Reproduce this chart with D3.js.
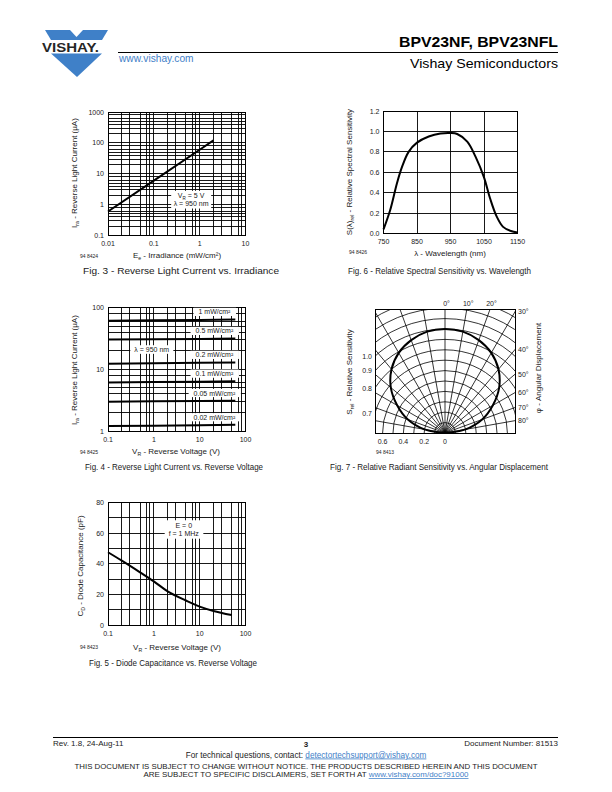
<!DOCTYPE html>
<html><head><meta charset="utf-8">
<script src="https://cdn.jsdelivr.net/npm/d3@7"></script>
<style>body{margin:0;background:#fff} svg{display:block} text{font-family:"Liberation Sans",Arial,Helvetica,sans-serif}</style>
</head><body><svg id="page" width="612" height="792"></svg>
<script>
// ---------- DATA ----------
const fig3Irradiance = [0.01, 0.1, 1, 2];
const fig3Current = [0.6, 6, 60, 120];
const fig3XTicks = [0.01, 0.1, 1, 10];
const fig3YTicks = [0.1, 1, 10, 100, 1000];

const fig4Voltage = [0.1, 1, 10, 60];
const fig4Labels = ["1 mW/cm²", "0.5 mW/cm²", "0.2 mW/cm²", "0.1 mW/cm²", "0.05 mW/cm²", "0.02 mW/cm²"];
const fig4Current = [
  [61, 62, 63, 64],
  [30.2, 30.6, 31, 31.6],
  [12.3, 12.5, 12.7, 12.9],
  [6.1, 6.2, 6.3, 6.4],
  [2.98, 3.02, 3.06, 3.1],
  [1.2, 1.22, 1.24, 1.26]
];
const fig4XTicks = [0.1, 1, 10, 100];
const fig4YTicks = [1, 10, 100];

const fig5Voltage = [0.1, 0.2, 0.5, 1, 2, 5, 10, 20, 50];
const fig5Capacitance = [47.5, 42, 34.4, 28.5, 22, 16, 12, 9.2, 6.5];
const fig5XTicks = [0.1, 1, 10, 100];
const fig5YTicks = [0, 20, 40, 60, 80];

const fig6Wavelength = [750, 770, 790, 805, 825, 850, 885, 920, 950, 970, 1000, 1025, 1050, 1068, 1088, 1107, 1130, 1150];
const fig6Sensitivity = [0.04, 0.23, 0.49, 0.65, 0.80, 0.89, 0.95, 0.98, 0.985, 0.975, 0.90, 0.75, 0.55, 0.345, 0.165, 0.065, 0.025, 0.01];
const fig6XTicks = [750, 850, 950, 1050, 1150];
const fig6YTicks = [0, 0.2, 0.4, 0.6, 0.8, 1.0, 1.2];

const fig7Angle = [0, 10, 20, 30, 40, 50, 60, 70, 80, 90];
const fig7Sensitivity = [1.0, 0.99, 0.95, 0.89, 0.80, 0.68, 0.53, 0.38, 0.20, 0.0];
const fig7SideTicks = [1.0, 0.9, 0.8, 0.7];
const fig7BottomTicks = [0.6, 0.4, 0.2, 0];
const fig7AngleTicks = [0, 10, 20, 30, 40, 50, 60, 70, 80];

const logMinorX = [2, 3, 5, 7, 8];
const logMinorY = [2, 3, 4, 5, 6, 8];

// ---------- HELPERS ----------
const svg = d3.select("#page");
svg.append("rect").attr("width", 612).attr("height", 792).attr("fill", "#fff");
const BLUE = "#3f80c8";

function txt(g, x, y, s, size, anchor, extra) {
  const t = g.append("text").attr("x", x).attr("y", y).attr("font-size", size)
    .attr("text-anchor", anchor || "start").attr("fill", "#1a1a1a").text(s);
  if (extra) Object.entries(extra).forEach(([k, v]) => t.attr(k, v));
  return t;
}
function rich(g, x, y, parts, size, anchor, rotate) {
  const t = g.append("text").attr("x", x).attr("y", y).attr("font-size", size)
    .attr("text-anchor", anchor || "middle").attr("fill", "#1a1a1a");
  if (rotate) t.attr("transform", `rotate(${rotate},${x},${y})`);
  let shifted = false;
  parts.forEach(p => {
    const s = t.append("tspan").text(p.t);
    if (p.sub) { s.attr("font-size", size * 0.65).attr("dy", 1.6); shifted = true; }
    else if (shifted) { s.attr("dy", -1.6); shifted = false; }
  });
  return t;
}
function logValues(domain, minors) {
  const out = [];
  const e0 = Math.round(Math.log10(domain[0])), e1 = Math.round(Math.log10(domain[1]));
  for (let e = e0; e < e1; e++) minors.forEach(m => out.push(m * Math.pow(10, e)));
  return out;
}
function gridV(g, x, y, vals, w) {
  g.selectAll(null).data(vals).enter().append("line")
    .attr("x1", d => x(d)).attr("x2", d => x(d)).attr("y1", y.range()[1]).attr("y2", y.range()[0])
    .attr("stroke", "#000").attr("stroke-width", w || 0.9).attr("shape-rendering", "crispEdges");
}
function gridH(g, x, y, vals, w) {
  g.selectAll(null).data(vals).enter().append("line")
    .attr("y1", d => y(d)).attr("y2", d => y(d)).attr("x1", x.range()[0]).attr("x2", x.range()[1])
    .attr("stroke", "#000").attr("stroke-width", w || 0.9).attr("shape-rendering", "crispEdges");
}
function frame(g, x, y) {
  g.append("rect").attr("x", x.range()[0]).attr("y", y.range()[1])
    .attr("width", x.range()[1] - x.range()[0]).attr("height", y.range()[0] - y.range()[1])
    .attr("fill", "none").attr("stroke", "#000").attr("stroke-width", 1).attr("shape-rendering", "crispEdges");
}
function whiteBox(g, textSel, padX, padY) {
  const boxes = textSel.map(t => t.node().getBBox());
  const x0 = d3.min(boxes, b => b.x) - padX, x1 = d3.max(boxes, b => b.x + b.width) + padX;
  const y0 = d3.min(boxes, b => b.y) - padY, y1 = d3.max(boxes, b => b.y + b.height) + padY;
  g.insert("rect", () => textSel[0].node()).attr("x", x0).attr("y", y0).attr("width", x1 - x0).attr("height", y1 - y0).attr("fill", "#fff");
}
function xTickLabels(g, x, y, ticks, fmt) {
  ticks.forEach(v => txt(g, x(v), y.range()[0] + 10.5, fmt ? fmt(v) : String(v), 7, "middle"));
}
function yTickLabels(g, x, y, ticks, fmt) {
  ticks.forEach(v => txt(g, x.range()[0] - 4, y(v) + 2.5, fmt ? fmt(v) : String(v), 7, "end"));
}

// ---------- HEADER ----------
const hdr = svg.append("g");
hdr.append("path").attr("d", "M45,30 L108,30 L102,40 L51,40 Z").attr("fill", BLUE);
hdr.append("path").attr("d", "M70,30 L83,30 L76.5,37 Z").attr("fill", "#fff");
hdr.append("path").attr("d", "M51,53.5 L102,53.5 L77,77 Z").attr("fill", BLUE);
txt(hdr, 42, 51.5, "VISHAY.", 12.5, "start", { "font-weight": "bold", "textLength": 57, "lengthAdjust": "spacingAndGlyphs", "fill": "#262626" });
txt(hdr, 119, 61.5, "www.vishay.com", 10.2, "start", { fill: BLUE });
txt(hdr, 558, 47, "BPV23NF, BPV23NFL", 15.5, "end", { "font-weight": "bold", fill: "#000", textLength: 159, lengthAdjust: "spacingAndGlyphs" });
hdr.append("line").attr("x1", 118).attr("x2", 558).attr("y1", 52.5).attr("y2", 52.5).attr("stroke", "#000").attr("stroke-width", 1);
txt(hdr, 558, 67.5, "Vishay Semiconductors", 13.5, "end", { fill: "#000", textLength: 148, lengthAdjust: "spacingAndGlyphs" });

// ---------- FIG 3 ----------
{
  const g = svg.append("g");
  const x = d3.scaleLog().domain([0.01, 10]).range([108, 245.5]);
  const y = d3.scaleLog().domain([0.1, 1000]).range([235.5, 112]);
  gridV(g, x, y, logValues(x.domain(), logMinorX));
  gridV(g, x, y, fig3XTicks);
  gridH(g, x, y, logValues(y.domain(), logMinorY));
  gridH(g, x, y, fig3YTicks);
  frame(g, x, y);
  g.append("path").datum(fig3Irradiance.map((v, i) => [v, fig3Current[i]]))
    .attr("d", d3.line().x(d => x(d[0])).y(d => y(d[1])))
    .attr("fill", "none").attr("stroke", "#000").attr("stroke-width", 2);
  const a1 = rich(g, x(0.65), y(1.6), [{ t: "V" }, { t: "R", sub: true }, { t: " = 5 V" }], 7, "middle");
  const a2 = txt(g, x(0.65), y(0.9), "λ = 950 nm", 7, "middle");
  whiteBox(g, [a1, a2], 2.5, 1.5);
  xTickLabels(g, x, y, fig3XTicks);
  yTickLabels(g, x, y, fig3YTicks);
  rich(g, 77, 173, [{ t: "I" }, { t: "ra", sub: true }, { t: " - Reverse Light Current (µA)" }], 8, "middle", -90);
  rich(g, 177, 258, [{ t: "E" }, { t: "e", sub: true }, { t: " - Irradiance (mW/cm²)" }], 8, "middle");
  txt(g, 80, 258, "94 8424", 5);
  txt(g, 83, 274, "Fig. 3 - Reverse Light Current vs. Irradiance", 8.6, "start", { textLength: 196, lengthAdjust: "spacingAndGlyphs" });
}

// ---------- FIG 6 ----------
{
  const g = svg.append("g");
  const x = d3.scaleLinear().domain([750, 1150]).range([383.5, 517.5]);
  const y = d3.scaleLinear().domain([0, 1.2]).range([233.5, 111]);
  gridV(g, x, y, fig6XTicks);
  gridH(g, x, y, fig6YTicks);
  frame(g, x, y);
  g.append("path").datum(fig6Wavelength.map((v, i) => [v, fig6Sensitivity[i]]))
    .attr("d", d3.line().curve(d3.curveCatmullRom).x(d => x(d[0])).y(d => y(d[1])))
    .attr("fill", "none").attr("stroke", "#000").attr("stroke-width", 2);
  xTickLabels(g, x, y, fig6XTicks);
  yTickLabels(g, x, y, fig6YTicks, d3.format(".1f"));
  rich(g, 352, 172, [{ t: "S(λ)" }, { t: "rel", sub: true }, { t: " - Relative Spectral Sensitivity" }], 8, "middle", -90);
  txt(g, 450, 256, "λ - Wavelength (nm)", 8, "middle");
  txt(g, 349, 254, "94 8426", 5);
  txt(g, 348, 274, "Fig. 6 - Relative Spectral Sensitivity vs. Wavelength", 8.6, "start", { textLength: 183, lengthAdjust: "spacingAndGlyphs" });
}

// ---------- FIG 4 ----------
{
  const g = svg.append("g");
  const x = d3.scaleLog().domain([0.1, 100]).range([108, 245.5]);
  const y = d3.scaleLog().domain([1, 100]).range([431, 307.5]);
  gridV(g, x, y, logValues(x.domain(), logMinorX));
  gridV(g, x, y, fig4XTicks);
  gridH(g, x, y, logValues(y.domain(), logMinorY));
  gridH(g, x, y, fig4YTicks);
  frame(g, x, y);
  const line = d3.line().x(d => x(d[0])).y(d => y(d[1]));
  fig4Current.forEach((vals, i) => {
    g.append("path").datum(fig4Voltage.map((v, j) => [v, vals[j]]))
      .attr("d", line).attr("fill", "none").attr("stroke", "#000").attr("stroke-width", 2);
    const t = txt(g, x(21), y(vals[2]) - 5.5, fig4Labels[i], 7, "middle");
    whiteBox(g, [t], 5, 0.6);
  });
  const lam = txt(g, x(0.9), y(19), "λ = 950 nm", 7, "middle");
  whiteBox(g, [lam], 4, 0.8);
  xTickLabels(g, x, y, fig4XTicks);
  yTickLabels(g, x, y, fig4YTicks);
  rich(g, 77, 370, [{ t: "I" }, { t: "ra", sub: true }, { t: " - Reverse Light Current (µA)" }], 8, "middle", -90);
  rich(g, 176, 454, [{ t: "V" }, { t: "R", sub: true }, { t: " - Reverse Voltage (V)" }], 8, "middle");
  txt(g, 80, 454, "94 8425", 5);
  txt(g, 85, 470, "Fig. 4 - Reverse Light Current vs. Reverse Voltage", 8.6, "start", { textLength: 178, lengthAdjust: "spacingAndGlyphs" });
}

// ---------- FIG 7 ----------
{
  const g = svg.append("g");
  const bx = d3.scaleLinear().domain([-1, 1]).range([375, 515]);
  const by = d3.scaleLinear().domain([0, 1]).range([433, 309.5]);
  const cx = bx(0), cy = by(0);
  const r = d3.scaleLinear().domain([0, 1]).range([0, 104]);
  svg.append("defs").append("clipPath").attr("id", "clip7").append("rect")
    .attr("x", bx(-1)).attr("y", by(1)).attr("width", bx(1) - bx(-1)).attr("height", by(0) - by(1));
  const gg = g.append("g").attr("clip-path", "url(#clip7)");
  gg.selectAll(null).data(d3.range(1, 15).map(k => k / 10)).enter().append("circle")
    .attr("cx", cx).attr("cy", cy).attr("r", d => r(d)).attr("fill", "none").attr("stroke", "#000").attr("stroke-width", 0.8);
  gg.selectAll(null).data(d3.range(-80, 90, 10)).enter().append("line")
    .attr("x1", cx).attr("y1", cy)
    .attr("x2", d => cx + Math.sin(d * Math.PI / 180) * 220).attr("y2", d => cy - Math.cos(d * Math.PI / 180) * 220)
    .attr("stroke", "#000").attr("stroke-width", 0.8);
  const pts = [];
  for (let i = fig7Angle.length - 1; i > 0; i--) pts.push([-fig7Angle[i], fig7Sensitivity[i]]);
  fig7Angle.forEach((a, i) => pts.push([a, fig7Sensitivity[i]]));
  gg.append("path").datum(pts).attr("transform", `translate(${cx},${cy})`)
    .attr("d", d3.lineRadial().curve(d3.curveCatmullRom).angle(d => d[0] * Math.PI / 180).radius(d => r(d[1])))
    .attr("fill", "none").attr("stroke", "#000").attr("stroke-width", 2);
  g.append("rect").attr("x", bx(-1)).attr("y", by(1)).attr("width", bx(1) - bx(-1)).attr("height", by(0) - by(1))
    .attr("fill", "none").attr("stroke", "#000").attr("stroke-width", 1).attr("shape-rendering", "crispEdges");
  const halfW = cx - bx(-1), h = cy - by(1);
  fig7SideTicks.forEach(v => {
    const yy = cy - Math.sqrt(r(v) * r(v) - halfW * halfW);
    txt(g, bx(-1) - 3, yy + 2.5, d3.format(".1f")(v), 7, "end");
  });
  fig7BottomTicks.forEach(v => txt(g, cx - r(v), cy + 10.5, v === 0 ? "0" : d3.format(".1f")(v), 7, "middle"));
  fig7AngleTicks.forEach(a => {
    const t = Math.tan(a * Math.PI / 180);
    const xt = cx + h * t;
    if (xt <= bx(1)) txt(g, xt + 1.5, by(1) - 4, a + "°", 7, "middle");
    else txt(g, bx(1) + 3, cy - halfW / t + 2.5, a + "°", 7, "start");
  });
  rich(g, 352, 372, [{ t: "S" }, { t: "rel", sub: true }, { t: " - Relative Sensitivity" }], 8, "middle", -90);
  txt(g, 541, 368, "φ - Angular Displacement", 8, "middle", { transform: "rotate(-90,541,368)" });
  txt(g, 376, 454, "94 8413", 5);
  txt(g, 330, 470, "Fig. 7 - Relative Radiant Sensitivity vs. Angular Displacement", 8.6, "start", { textLength: 218, lengthAdjust: "spacingAndGlyphs" });
}

// ---------- FIG 5 ----------
{
  const g = svg.append("g");
  const x = d3.scaleLog().domain([0.1, 100]).range([108, 245.5]);
  const y = d3.scaleLinear().domain([0, 80]).range([625, 502.5]);
  gridV(g, x, y, logValues(x.domain(), logMinorX));
  gridV(g, x, y, fig5XTicks);
  gridH(g, x, y, d3.range(0, 81, 10));
  frame(g, x, y);
  g.append("path").datum(fig5Voltage.map((v, i) => [v, fig5Capacitance[i]]))
    .attr("d", d3.line().curve(d3.curveCatmullRom).x(d => x(d[0])).y(d => y(d[1])))
    .attr("fill", "none").attr("stroke", "#000").attr("stroke-width", 2);
  const e1 = txt(g, x(4.5), y(63.5), "E = 0", 7, "middle");
  const e2 = txt(g, x(4.5), y(58), "f = 1 MHz", 7, "middle");
  whiteBox(g, [e1, e2], 4, 1.5);
  xTickLabels(g, x, y, fig5XTicks);
  yTickLabels(g, x, y, fig5YTicks);
  rich(g, 83, 566, [{ t: "C" }, { t: "D", sub: true }, { t: " - Diode Capacitance (pF)" }], 8, "middle", -90);
  rich(g, 177, 650, [{ t: "V" }, { t: "R", sub: true }, { t: " - Reverse Voltage (V)" }], 8, "middle");
  txt(g, 80, 649, "94 8423", 5);
  txt(g, 89, 666, "Fig. 5 - Diode Capacitance vs. Reverse Voltage", 8.6, "start", { textLength: 168, lengthAdjust: "spacingAndGlyphs" });
}

// ---------- FOOTER ----------
const ft = svg.append("g");
ft.append("line").attr("x1", 53).attr("x2", 558).attr("y1", 737.5).attr("y2", 737.5).attr("stroke", "#000").attr("stroke-width", 1);
txt(ft, 53, 746, "Rev. 1.8, 24-Aug-11", 8);
txt(ft, 306, 747, "3", 8, "middle", { "font-weight": "bold" });
txt(ft, 558, 746, "Document Number: 81513", 8, "end");
const q = ft.append("text").attr("x", 306).attr("y", 757.5).attr("font-size", 8.2).attr("text-anchor", "middle").attr("fill", "#1a1a1a");
q.append("tspan").text("For technical questions, contact: ");
q.append("tspan").text("detectortechsupport@vishay.com").attr("fill", BLUE).attr("text-decoration", "underline");
txt(ft, 306, 768.5, "THIS DOCUMENT IS SUBJECT TO CHANGE WITHOUT NOTICE. THE PRODUCTS DESCRIBED HEREIN AND THIS DOCUMENT", 7.5, "middle", { textLength: 463, lengthAdjust: "spacingAndGlyphs" });
const d2 = ft.append("text").attr("x", 306).attr("y", 777).attr("font-size", 7.5).attr("text-anchor", "middle").attr("fill", "#1a1a1a")
  .attr("textLength", 325).attr("lengthAdjust", "spacingAndGlyphs");
d2.append("tspan").text("ARE SUBJECT TO SPECIFIC DISCLAIMERS, SET FORTH AT ");
d2.append("tspan").text("www.vishay.com/doc?91000").attr("fill", BLUE).attr("text-decoration", "underline");
</script></body></html>
